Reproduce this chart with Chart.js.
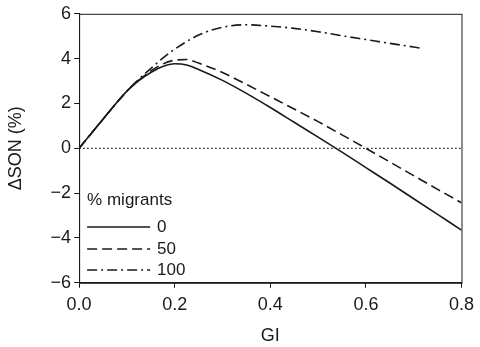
<!DOCTYPE html>
<html>
<head>
<meta charset="utf-8">
<script src="https://cdn.jsdelivr.net/npm/chart.js@4"></script>
<style>
  html, body { margin: 0; padding: 0; background: #fff; }
  #wrap { width: 480px; height: 347px; }
</style>
</head>
<body>
<div id="wrap"><canvas id="sonChart"></canvas></div>
<script>
// GI values and ΔSON (%) for each share of migrants
const giMain = [0, 0.05, 0.1, 0.125, 0.15, 0.175, 0.2, 0.225, 0.25, 0.3, 0.35, 0.4, 0.45, 0.5, 0.55, 0.6, 0.65, 0.7, 0.75, 0.8];
const son0 = [0, 1.3, 2.55, 3.02, 3.38, 3.65, 3.77, 3.72, 3.52, 3.03, 2.45, 1.82, 1.16, 0.5, -0.17, -0.86, -1.55, -2.25, -2.95, -3.65];
const son50 = [0, 1.3, 2.55, 3.04, 3.45, 3.76, 3.93, 3.96, 3.8, 3.38, 2.85, 2.3, 1.75, 1.19, 0.6, 0, -0.61, -1.22, -1.83, -2.43];
const gi100 = [0, 0.05, 0.1, 0.125, 0.15, 0.175, 0.2, 0.25, 0.3, 0.35, 0.4, 0.45, 0.5, 0.55, 0.6, 0.65, 0.7, 0.72];
const son100 = [0, 1.3, 2.55, 3.08, 3.56, 4.02, 4.42, 5.05, 5.4, 5.51, 5.45, 5.35, 5.2, 5.02, 4.85, 4.68, 4.52, 4.45];
const migrantLabels = ['0', '50', '100'];
const yTicks = [-6, -4, -2, 0, 2, 4, 6];
const xTicks = [0, 0.2, 0.4, 0.6, 0.8];

const ink = '#1a1a1a';
const fontFamily = '"Liberation Sans", Arial, sans-serif';
const dashes = [[], [10, 5], [10, 4, 2, 4]];

function toPoints(xs, ys) {
  return xs.map((x, i) => ({ x: x, y: ys[i] }));
}

// frame round the plot plus the inner legend
const framePlugin = {
  id: 'frame',
  afterDatasetsDraw(chart) {
    const { ctx, chartArea: a } = chart;
    ctx.save();
    ctx.strokeStyle = ink;
    ctx.lineWidth = 1;
    ctx.setLineDash([]);
    ctx.strokeRect(a.left + 0.5, a.top + 0.5, a.right - a.left, a.bottom - a.top);

    // legend
    const lx = a.left + 8;
    ctx.fillStyle = ink;
    ctx.font = '17px ' + fontFamily;
    ctx.textBaseline = 'middle';
    ctx.textAlign = 'left';
    ctx.fillText('% migrants', lx, 200);
    const rows = [227, 249, 270];
    migrantLabels.forEach((lab, i) => {
      ctx.beginPath();
      ctx.lineWidth = 1.6;
      ctx.setLineDash(dashes[i]);
      ctx.moveTo(lx, rows[i]);
      ctx.lineTo(lx + 63, rows[i]);
      ctx.stroke();
      ctx.setLineDash([]);
      ctx.fillText(lab, lx + 70, rows[i]);
    });
    ctx.restore();
  }
};

const baseLine = {
  borderColor: ink,
  borderWidth: 1.6,
  pointRadius: 0,
  fill: false,
  cubicInterpolationMode: 'monotone'
};

new Chart(document.getElementById('sonChart').getContext('2d'), {
  type: 'line',
  data: {
    datasets: [
      Object.assign({ label: migrantLabels[0], data: toPoints(giMain, son0), borderDash: dashes[0] }, baseLine),
      Object.assign({ label: migrantLabels[1], data: toPoints(giMain, son50), borderDash: dashes[1] }, baseLine),
      Object.assign({ label: migrantLabels[2], data: toPoints(gi100, son100), borderDash: dashes[2] }, baseLine),
      {
        label: 'zero',
        data: [{ x: 0, y: 0 }, { x: 0.8, y: 0 }],
        borderColor: ink,
        borderWidth: 1.2,
        borderDash: [1.5, 2.5],
        pointRadius: 0
      }
    ]
  },
  options: {
    responsive: true,
    maintainAspectRatio: false,
    animation: false,
    layout: { padding: { top: 2, right: 0, left: 5, bottom: 0 } },
    plugins: {
      legend: { display: false },
      tooltip: { enabled: false }
    },
    scales: {
      x: {
        type: 'linear',
        min: 0,
        max: 0.8,
        afterBuildTicks(axis) { axis.ticks = xTicks.map(v => ({ value: v })); },
        grid: { drawOnChartArea: false, drawTicks: true, tickLength: 5, color: ink },
        border: { color: ink },
        ticks: {
          color: ink,
          font: { size: 18, family: fontFamily },
          padding: 6,
          callback: v => v.toFixed(1)
        },
        title: {
          display: true,
          text: 'GI',
          color: ink,
          font: { size: 18, family: fontFamily },
          padding: { top: 4, bottom: 0 }
        }
      },
      y: {
        min: -6,
        max: 6,
        afterBuildTicks(axis) { axis.ticks = yTicks.map(v => ({ value: v })); },
        grid: { drawOnChartArea: false, drawTicks: true, tickLength: 5, color: ink },
        border: { color: ink },
        ticks: {
          color: ink,
          font: { size: 18, family: fontFamily },
          padding: 3,
          callback: v => (v < 0 ? '\u2212' + Math.abs(v) : String(v))
        },
        title: {
          display: true,
          text: '\u0394SON (%)',
          color: ink,
          font: { size: 18, family: fontFamily },
          padding: { top: 0, bottom: 21 }
        }
      }
    }
  },
  plugins: [framePlugin]
});
</script>
</body>
</html>
